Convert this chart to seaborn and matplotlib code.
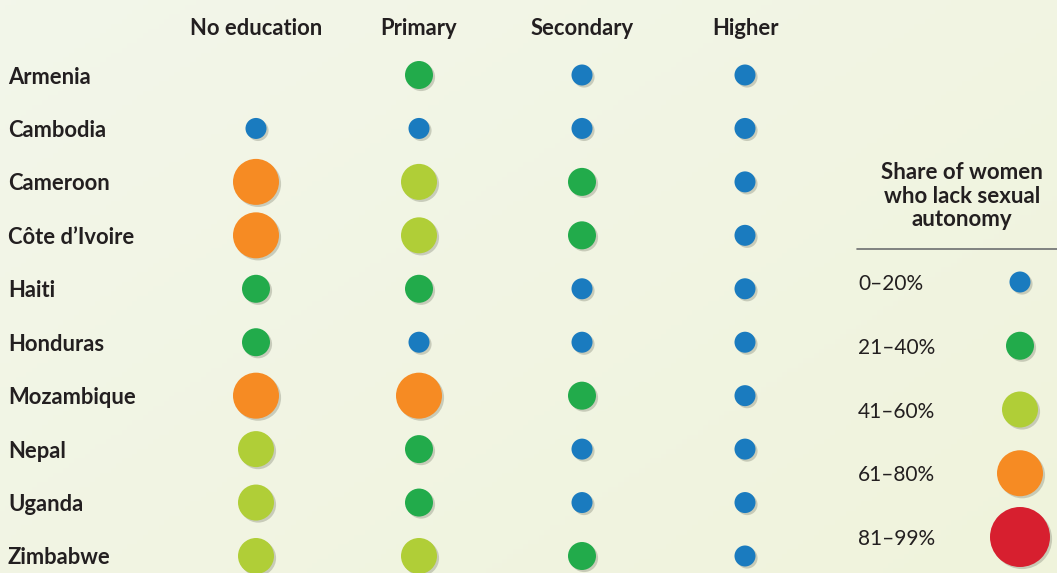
import numpy as np
import pandas as pd
import matplotlib
matplotlib.use("Agg")
import matplotlib.pyplot as plt
import matplotlib.patheffects as pe
from matplotlib.lines import Line2D
import seaborn as sns

countries = ["Armenia", "Cambodia", "Cameroon", "Côte d’Ivoire", "Haiti",
             "Honduras", "Mozambique", "Nepal", "Uganda", "Zimbabwe"]
levels = ["No education", "Primary", "Secondary", "Higher"]
bins = ["0–20%", "21–40%", "41–60%", "61–80%", "81–99%"]

no_education = [None, "0–20%", "61–80%", "61–80%", "21–40%",
                "21–40%", "61–80%", "41–60%", "41–60%", "41–60%"]
primary = ["21–40%", "0–20%", "41–60%", "41–60%", "21–40%",
           "0–20%", "61–80%", "21–40%", "21–40%", "41–60%"]
secondary = ["0–20%", "0–20%", "21–40%", "21–40%", "0–20%",
             "0–20%", "21–40%", "0–20%", "0–20%", "21–40%"]
higher = ["0–20%"] * 10

legend_title = "Share of women\nwho lack sexual\nautonomy"

colors = ["#1a7bbf", "#22ab4b", "#b0ce37", "#f68b23", "#d71f2f"]
diam_px = [21, 28, 36, 46, 60]

sns.set_theme(style="white")
plt.rcParams['font.family'] = ['Lato', 'DejaVu Sans']
TXT = "#231f20"

rows = []
for lvl, vals in zip(levels, [no_education, primary, secondary, higher]):
    for c, v in zip(countries, vals):
        if v is not None:
            rows.append({"Country": c, "Level": lvl, "Share": v})
df = pd.DataFrame(rows)
df["Country"] = pd.Categorical(df["Country"], categories=countries, ordered=True)
df["Level"] = pd.Categorical(df["Level"], categories=levels, ordered=True)

W, H = 1057, 573
fig = plt.figure(figsize=(W / 100, H / 100), dpi=100)

# background gradient
bg = fig.add_axes([0, 0, 1, 1], zorder=-10)
gx, gy = np.meshgrid(np.linspace(0, 1, 200), np.linspace(0, 1, 120))
t = np.clip(0.55 * gx + 0.45 * gy, 0, 1)
c0 = np.array([0.953, 0.966, 0.918])
c1 = np.array([0.940, 0.953, 0.862])
img = c0[None, None, :] * (1 - t[..., None]) + c1[None, None, :] * t[..., None]
bg.imshow(img, aspect="auto", extent=[0, 1, 0, 1], origin="upper")
bg.set_axis_off()

palette = dict(zip(bins, colors))
sizes = {b: (d * 0.72) ** 2 for b, d in zip(bins, diam_px)}
shadow = [pe.SimplePatchShadow(offset=(1.5, -1.5), shadow_rgbFace="#7d806f", alpha=0.35),
          pe.Normal()]

def px_axes(left, top, right, bottom):
    return [left / W, (H - bottom) / H, (right - left) / W, (bottom - top) / H]

ux, uy = 163.0, 53.44
ax = fig.add_axes(px_axes(256 - ux / 2, 75 - uy / 2, 745 + ux / 2, 556 + uy / 2))
ax.patch.set_alpha(0)
sns.scatterplot(data=df, x="Level", y="Country", hue="Share", size="Share",
                palette=palette, sizes=sizes, hue_order=bins, size_order=bins,
                linewidth=0, legend=False, ax=ax)
for coll in ax.collections:
    coll.set_path_effects(shadow)
ax.set_xlim(-0.5, 3.5)
ax.set_ylim(9.5, -0.5)
ax.xaxis.tick_top()
ax.set_xlabel("")
ax.set_ylabel("")
for s in ax.spines.values():
    s.set_visible(False)
ax.tick_params(axis="x", length=0, pad=7, labelsize=15.8, labelcolor=TXT)
ax.tick_params(axis="y", length=0, pad=(256 - ux / 2 - 8) * 0.72, labelsize=15.8, labelcolor=TXT)
for lab in ax.get_xticklabels():
    lab.set_fontweight("bold")
for lab in ax.get_yticklabels():
    lab.set_fontweight("bold")
    lab.set_horizontalalignment("left")

# legend axes
ldf = pd.DataFrame({"Share": bins, "x": ["dot"] * len(bins)})
ldf["Share"] = pd.Categorical(ldf["Share"], categories=bins, ordered=True)
ly0, ly1 = 282.0, 537.0
luy = (ly1 - ly0) / 4
lax = fig.add_axes(px_axes(985, ly0 - luy / 2, 1055, ly1 + luy / 2))
lax.patch.set_alpha(0)
sns.scatterplot(data=ldf, x="x", y="Share", hue="Share", size="Share",
                palette=palette, sizes=sizes, hue_order=bins, size_order=bins,
                linewidth=0, legend=False, ax=lax, clip_on=False)
for coll in lax.collections:
    coll.set_path_effects(shadow)
lax.set_xlim(-0.5, 0.5)
lax.set_ylim(4.5, -0.5)
lax.set_xticks([])
lax.set_xlabel("")
lax.set_ylabel("")
for s in lax.spines.values():
    s.set_visible(False)
lax.tick_params(axis="y", length=0, pad=(985 - 858) * 0.72, labelsize=15, labelcolor=TXT)
for lab in lax.get_yticklabels():
    lab.set_horizontalalignment("left")

fig.text(962 / W, 1 - 196 / H, legend_title, ha="center", va="center",
         fontsize=16, fontweight="bold", color=TXT, linespacing=1.12)
fig.add_artist(Line2D([857 / W, 1.0], [1 - 249 / H, 1 - 249 / H],
                      color="#6d6e70", linewidth=1.2, transform=fig.transFigure))

fig.savefig("out.png", dpi=100)
